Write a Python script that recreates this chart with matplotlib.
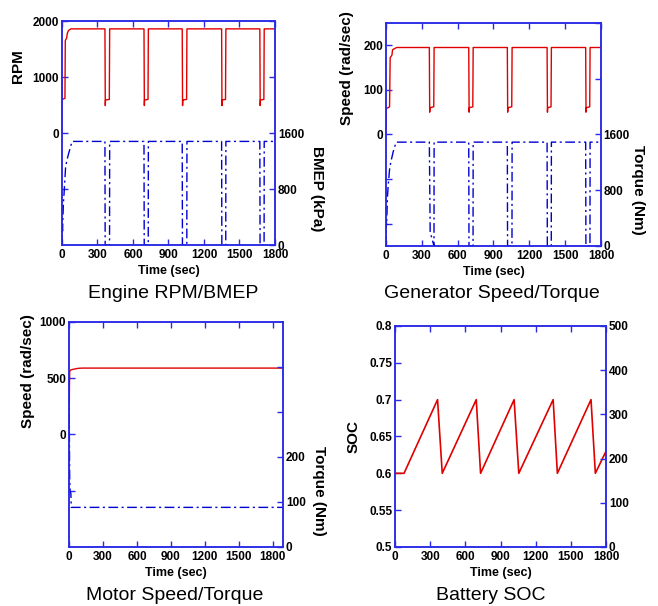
import matplotlib
matplotlib.use('Agg')
import matplotlib.pyplot as plt

plt.rcParams['font.family'] = ['Liberation Sans', 'DejaVu Sans']

# ---- data ----
time_ticks = [0, 300, 600, 900, 1200, 1500, 1800]

# engine speed (rpm)
eng_t = [0, 1, 3, 25, 28, 40, 45, 55, 75,
         363, 366, 368, 400, 403,
         693, 696, 698, 727, 730,
         1016, 1019, 1021, 1053, 1056,
         1349, 1352, 1354, 1382, 1385,
         1672, 1675, 1677, 1706, 1709, 1800]
eng_rpm = [0, 950, 600, 620, 1650, 1700, 1780, 1830, 1860,
           1860, 490, 590, 600, 1860,
           1860, 490, 590, 600, 1860,
           1860, 490, 590, 600, 1860,
           1860, 490, 590, 600, 1860,
           1860, 490, 590, 600, 1860, 1860]

# engine BMEP (kPa)
bmep_t = [0, 2, 5, 8, 12, 20, 30, 40, 55, 85,
          363, 365, 402, 403,
          693, 695, 729, 730,
          1016, 1018, 1055, 1056,
          1349, 1351, 1384, 1385,
          1672, 1674, 1708, 1709, 1800]
bmep = [0, 250, 200, 400, 600, 800, 1100, 1200, 1300, 1480,
        1480, 0, 0, 1480,
        1480, 0, 0, 1480,
        1480, 0, 0, 1480,
        1480, 0, 0, 1480,
        1480, 0, 0, 1480, 1480]

# generator speed (rad/sec)
gen_t = [0, 3, 30, 35, 50, 55, 90,
         363, 366, 368, 400, 403,
         693, 696, 698, 727, 730,
         1016, 1019, 1021, 1053, 1056,
         1349, 1352, 1354, 1382, 1385,
         1672, 1675, 1677, 1706, 1709, 1800]
gen_speed = [0, 58, 62, 172, 178, 190, 195,
             195, 50, 60, 62, 195,
             195, 50, 60, 62, 195,
             195, 50, 60, 62, 195,
             195, 50, 60, 62, 195,
             195, 50, 60, 62, 195, 195]

# generator torque (Nm)
gtq_t = [0, 3, 5, 8, 12, 20, 30, 40, 60, 85,
         363, 370, 402, 403,
         693, 695, 729, 730,
         1016, 1018, 1055, 1056,
         1349, 1351, 1384, 1385,
         1672, 1674, 1708, 1709, 1800]
gen_torque = [0, 350, 300, 450, 700, 900, 1100, 1200, 1350, 1490,
              1490, 200, 0, 1490,
              1490, 0, 0, 1490,
              1490, 0, 0, 1490,
              1490, 0, 0, 1490,
              1490, 0, 0, 1490, 1490]

# motor speed (rad/sec) and torque (Nm)
mot_t = [0, 2, 4, 6, 10, 20, 40, 80, 120, 1890]
mot_speed = [0, 250, 450, 560, 570, 575, 580, 588, 590, 590]
mtq_t = [0, 3, 6, 10, 16, 20, 1890]
mot_torque = [380, 250, 150, 122, 120, 88, 88]

# battery state of charge
soc_t = [0, 77, 363, 403, 693, 730, 1016, 1056, 1349, 1385, 1672, 1709, 1800]
soc = [0.6, 0.6, 0.7, 0.6, 0.7, 0.6, 0.7, 0.6, 0.7, 0.6, 0.7, 0.6, 0.63]

captions = ['Engine RPM/BMEP', 'Generator Speed/Torque', 'Motor Speed/Torque', 'Battery SOC']

SPINE = '#2a2ae6'
RED = '#e00000'
BLUE = '#0000d0'
DASHDOT = (0, (7, 2.5, 1.5, 2.5))
LABELFONT = dict(fontsize=11, fontweight='bold')


def style(ax, ax2):
    for a in (ax, ax2):
        for s in a.spines.values():
            s.set_color(SPINE)
            s.set_linewidth(1.1)
    ax.tick_params(direction='in', length=4, width=1, color=SPINE, top=True,
                   right=False, pad=3, labelsize=8.5)
    ax.tick_params(axis='y', pad=2)
    ax2.tick_params(direction='in', length=4, width=1, color=SPINE, left=False,
                    pad=2, labelsize=8.5)
    for lab in ax.get_xticklabels() + ax.get_yticklabels() + ax2.get_yticklabels():
        lab.set_fontweight('bold')


def make_panel(fig, rect, xlim):
    ax = fig.add_axes(rect)
    ax2 = ax.twinx()
    ax.set_xlim(*xlim)
    ax.set_xticks(time_ticks)
    ax.set_xticklabels([str(t) for t in time_ticks])
    ax.set_xlabel('Time (sec)', fontsize=9, fontweight='bold', labelpad=3)
    return ax, ax2


fig = plt.figure(figsize=(6.58, 6.06), dpi=100)

# ---- Engine RPM/BMEP ----
ax, ax2 = make_panel(fig, [0.0942, 0.5957, 0.3237, 0.3696], (0, 1800))
ax.plot(eng_t, eng_rpm, color=RED, lw=1.0)
ax2.plot(bmep_t, bmep, color=BLUE, lw=1.0, linestyle=DASHDOT)
ax.set_ylim(-2000, 2000)
ax.set_yticks([-1000, 0, 1000, 2000])
ax.set_yticklabels(['', '0', '1000', '2000'])
ax2.set_ylim(0, 3200)
ax2.set_yticks([0, 800, 1600, 2400, 3200])
ax2.set_yticklabels(['0', '800', '1600', '', ''])
ax.set_ylabel('RPM', **LABELFONT)
ax.yaxis.set_label_coords(-0.174, 0.8)
ax2.set_ylabel('BMEP (kPa)', rotation=270, **LABELFONT)
ax2.yaxis.set_label_coords(1.23, 0.25)
style(ax, ax2)

# ---- Generator Speed/Torque ----
ax, ax2 = make_panel(fig, [0.5866, 0.5941, 0.3267, 0.368], (0, 1800))
ax.plot(gen_t, gen_speed, color=RED, lw=1.0)
ax2.plot(gtq_t, gen_torque, color=BLUE, lw=1.0, linestyle=DASHDOT)
ax.set_ylim(-250, 250)
ax.set_yticks([-200, -100, 0, 100, 200])
ax.set_yticklabels(['', '', '0', '100', '200'])
ax2.set_ylim(0, 3200)
ax2.set_yticks([0, 800, 1600, 2400, 3200])
ax2.set_yticklabels(['0', '800', '1600', '', ''])
ax.set_ylabel('Speed (rad/sec)', **LABELFONT)
ax.yaxis.set_label_coords(-0.149, 0.8)
ax2.set_ylabel('Torque (Nm)', rotation=270, **LABELFONT)
ax2.yaxis.set_label_coords(1.207, 0.25)
style(ax, ax2)

# ---- Motor Speed/Torque ----
ax, ax2 = make_panel(fig, [0.1049, 0.0974, 0.3252, 0.3713], (0, 1890))
ax.plot(mot_t, mot_speed, color=RED, lw=1.0)
ax2.plot(mtq_t, mot_torque, color=BLUE, lw=1.0, linestyle=DASHDOT)
ax.set_ylim(-1000, 1000)
ax.set_yticks([-500, 0, 500, 1000])
ax.set_yticklabels(['', '0', '500', '1000'])
ax2.set_ylim(0, 500)
ax2.set_yticks([0, 100, 200, 300, 400])
ax2.set_yticklabels(['0', '100', '200', '', ''])
ax.set_ylabel('Speed (rad/sec)', **LABELFONT)
ax.yaxis.set_label_coords(-0.159, 0.78)
ax2.set_ylabel('Torque (Nm)', rotation=270, **LABELFONT)
ax2.yaxis.set_label_coords(1.203, 0.25)
style(ax, ax2)

# ---- Battery SOC ----
ax, ax2 = make_panel(fig, [0.6003, 0.0974, 0.3207, 0.3647], (0, 1800))
ax.plot(soc_t, soc, color=RED, lw=1.2)
ax.set_ylim(0.5, 0.8)
soc_ticks = [0.5, 0.55, 0.6, 0.65, 0.7, 0.75, 0.8]
ax.set_yticks(soc_ticks)
ax.set_yticklabels(['0.5', '0.55', '0.6', '0.65', '0.7', '0.75', '0.8'])
ax2.set_ylim(0, 500)
ax2.set_yticks([0, 100, 200, 300, 400, 500])
ax.set_ylabel('SOC', **LABELFONT)
ax.yaxis.set_label_coords(-0.161, 0.5)
style(ax, ax2)

# captions under each panel
fig.text(173 / 658, 1 - 293 / 606, captions[0], fontsize=14, ha='center', va='center')
fig.text(492 / 658, 1 - 293 / 606, captions[1], fontsize=14, ha='center', va='center')
fig.text(175 / 658, 1 - 595 / 606, captions[2], fontsize=14, ha='center', va='center')
fig.text(491 / 658, 1 - 595 / 606, captions[3], fontsize=14, ha='center', va='center')

fig.savefig('out.png', dpi=100)
